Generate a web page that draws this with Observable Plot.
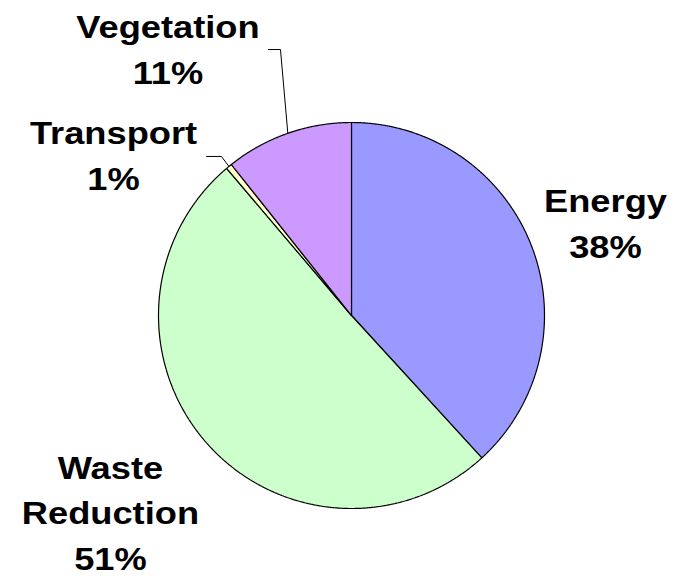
<!DOCTYPE html>
<html>
<head>
<meta charset="utf-8">
<script src="https://cdn.jsdelivr.net/npm/d3@7"></script>
<script src="https://cdn.jsdelivr.net/npm/@observablehq/plot@0.6"></script>
<style>
  html, body { margin: 0; padding: 0; background: #ffffff; }
  #chart svg { display: block; }
</style>
</head>
<body>
<div id="chart"></div>
<script>
// ---- data (clockwise from 12 o'clock) ----
const categories = ["Energy", "Waste Reduction", "Transport", "Vegetation"];
const shares = [38.2, 50.6, 0.5, 10.7];
const colors = ["#9999FF", "#CCFFCC", "#FFFFCC", "#CC99FF"];
// label text lines (category name split as in the chart)
const labelNames = ["Energy", "Waste\nReduction", "Transport", "Vegetation"];

// ---- layout (unit-circle coordinates, pie radius = 1) ----
const labelPos = [
  {u: 1.316, v: 0.300},    // Energy (baseline of last line)
  {u: -1.249, v: -1.319},  // Waste Reduction
  {u: -1.233, v: 0.651},   // Transport
  {u: -0.951, v: 1.2005}   // Vegetation
];
// leader lines: elbow and end points (start is on the slice's outer edge)
const leaders = {
  "Transport": [{u: -0.674, v: 0.824}, {u: -0.751, v: 0.824}],
  "Vegetation": [{u: -0.368, v: 1.378}, {u: -0.430, v: 1.378}]
};

const total = d3.sum(shares);
const arcs = d3.pie().sort(null).value(d => d)(shares);

// slice outlines as closed polygons
const slicePts = [];
arcs.forEach((a, i) => {
  const cat = categories[i];
  slicePts.push({cat, u: 0, v: 0});
  const n = Math.max(4, Math.ceil((a.endAngle - a.startAngle) / (Math.PI / 720)));
  for (let k = 0; k <= n; k++) {
    const t = a.startAngle + (a.endAngle - a.startAngle) * k / n;
    slicePts.push({cat, u: Math.sin(t), v: Math.cos(t)});
  }
  slicePts.push({cat, u: 0, v: 0});
});

// leader line points
const leaderPts = [];
arcs.forEach((a, i) => {
  const cat = categories[i];
  if (!leaders[cat]) return;
  const mid = (a.startAngle + a.endAngle) / 2;
  leaderPts.push({cat, u: Math.sin(mid), v: Math.cos(mid)});
  leaders[cat].forEach(p => leaderPts.push({cat, u: p.u, v: p.v}));
});

const pct = v => Math.round(+(v / total * 100).toFixed(6)) + "%";
const labels = categories.map((c, i) => ({
  cat: c,
  u: labelPos[i].u,
  v: labelPos[i].v,
  text: labelNames[i] + "\n" + pct(shares[i])
}));

const chart = Plot.plot({
  width: 677,
  height: 577,
  marginLeft: 158,
  marginRight: 133,
  marginTop: 122,
  marginBottom: 69,
  x: {domain: [-1, 1], axis: null},
  y: {domain: [-1, 1], axis: null},
  color: {domain: categories, range: colors},
  style: {background: "#ffffff", overflow: "visible"},
  marks: [
    Plot.line(slicePts, {
      x: "u", y: "v", z: "cat", fill: "cat",
      stroke: "#000000", strokeWidth: 1.2, strokeLinejoin: "miter"
    }),
    Plot.line(leaderPts, {
      x: "u", y: "v", z: "cat",
      stroke: "#000000", strokeWidth: 1, strokeLinejoin: "miter"
    }),
    Plot.text(labels, {
      x: "u", y: "v", text: "text",
      lineAnchor: "bottom", lineHeight: 1.47,
      fontSize: 31, fontWeight: "bold",
      fontFamily: "Liberation Sans, Arial, Helvetica, sans-serif",
      fill: "#000000", textAnchor: "middle"
    })
  ]
});

// the reference lettering is horizontally widened
chart.querySelectorAll('g[aria-label="text"] text').forEach(t => {
  const tr = t.getAttribute("transform");
  if (tr) t.setAttribute("transform", tr + " scale(1.17,1)");
});

document.getElementById("chart").appendChild(chart);
</script>
</body>
</html>
